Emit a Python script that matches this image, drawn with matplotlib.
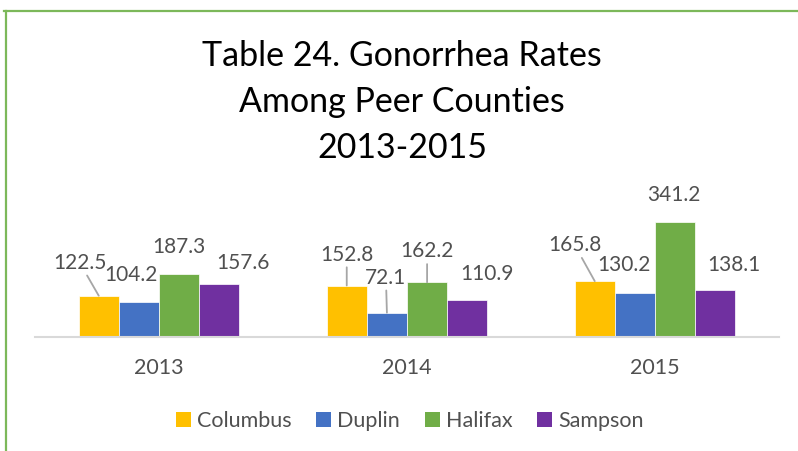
import matplotlib
matplotlib.use('Agg')
import matplotlib.pyplot as plt
from matplotlib.lines import Line2D
from matplotlib.patches import Patch
import numpy as np

plt.rcParams['font.family'] = ['Lato', 'DejaVu Sans']

years = ['2013', '2014', '2015']
counties = ['Columbus', 'Duplin', 'Halifax', 'Sampson']
colors = ['#FFC000', '#4472C4', '#70AD47', '#7030A0']
rates = {
    'Columbus': [122.5, 152.8, 165.8],
    'Duplin': [104.2, 72.1, 130.2],
    'Halifax': [187.3, 162.2, 341.2],
    'Sampson': [157.6, 110.9, 138.1],
}

# hand-placed label offsets (pixels from bar top), like the moved Excel labels
label_offsets = {
    'Columbus': [(-19, 33), (0, 31), (-20, 36)],
    'Duplin': [(-8, 27), (-1, 35), (-11, 28)],
    'Halifax': [(0, 27), (0, 31), (-1, 27)],
    'Sampson': [(24, 21), (20, 26), (19, 25)],
}
leaders = {
    'Columbus': [True, True, True],
    'Duplin': [False, True, False],
    'Halifax': [False, True, False],
    'Sampson': [False, False, False],
}

W, H = 798, 451
fig = plt.figure(figsize=(W / 100, H / 100), dpi=100)
ax = fig.add_axes([35 / W, (H - 337) / H, (779 - 35) / W, 134.8 / H])

text_col = '#505050'
x = np.arange(len(years))
bw = 0.162
px2pt = 72 / 100

for i, name in enumerate(counties):
    pos = x + (i - 1.5) * bw
    ax.bar(pos, rates[name], width=bw, color=colors[i], edgecolor='white',
           linewidth=0.5, label=name)
    for j, v in enumerate(rates[name]):
        dx, dy = label_offsets[name][j]
        arrow = None
        if leaders[name][j]:
            arrow = dict(arrowstyle='-', color='#a6a6a6', lw=1.3,
                         shrinkA=0, shrinkB=0)
        ax.annotate(f'{v:.1f}', xy=(pos[j], v),
                    xytext=(dx * px2pt, dy * px2pt), textcoords='offset points',
                    ha='center', va='center', fontsize=15, color=text_col,
                    arrowprops=arrow, annotation_clip=False)

ax.set_xlim(-0.5, 2.5)
ax.set_ylim(0, 400)
ax.set_xticks(x)
ax.set_xticklabels(years, fontsize=15.5, color=text_col)
ax.tick_params(axis='x', length=0, pad=15)
ax.set_yticks([])
for s in ['top', 'left', 'right']:
    ax.spines[s].set_visible(False)
ax.spines['bottom'].set_color('#d9d9d9')
ax.spines['bottom'].set_linewidth(1.5)

# title
title_lines = ['Table 24. Gonorrhea Rates', 'Among Peer Counties', '2013-2015']
for k, line in enumerate(title_lines):
    fig.text(402 / W, 1 - (56 + 46 * k) / H, line, ha='center', va='center',
             fontsize=24.5, color='black')

handles = [Patch(facecolor=c, label=n) for c, n in zip(colors, counties)]
fig.legend(handles=handles, loc='center', bbox_to_anchor=(410 / W, 1 - 421 / H),
           ncol=4, frameon=False, fontsize=15.5, handlelength=0.68,
           handleheight=0.68, handletextpad=0.3, columnspacing=1.15,
           labelcolor=text_col)

# green chart border (top and left visible)
border = '#7cb85a'
fig.add_artist(Line2D([4 / W, 1], [1 - 10.5 / H, 1 - 10.5 / H],
                      transform=fig.transFigure, color=border, lw=1.6))
fig.add_artist(Line2D([5.5 / W, 5.5 / W], [0, 1 - 10.5 / H],
                      transform=fig.transFigure, color=border, lw=1.6))

fig.savefig('out.png', dpi=100)
